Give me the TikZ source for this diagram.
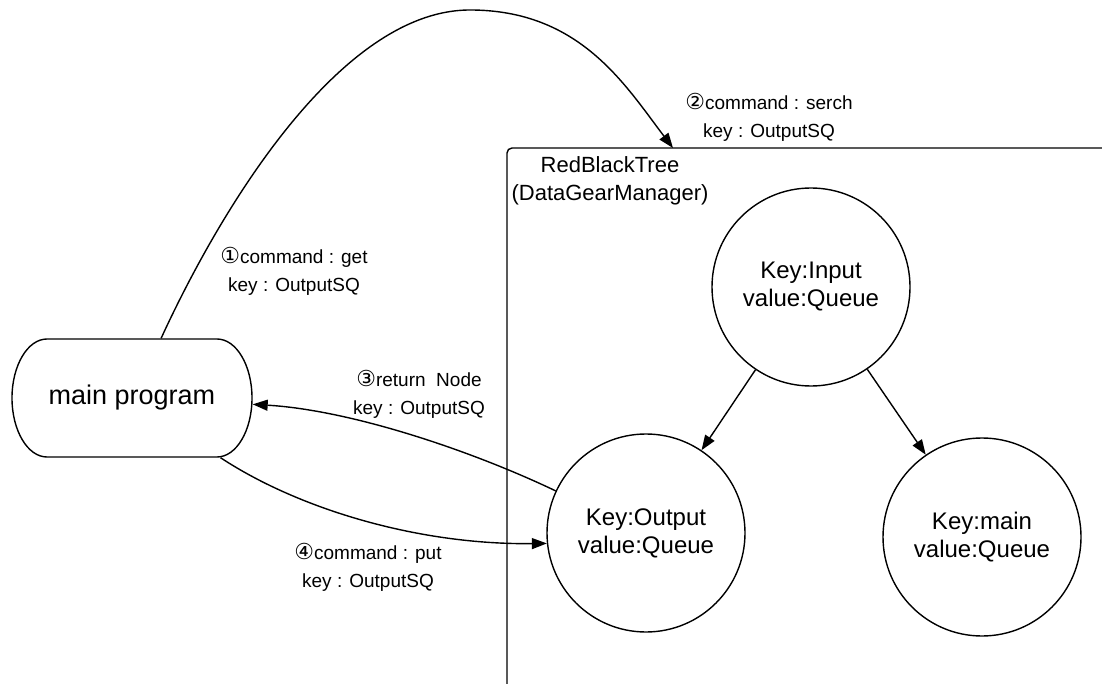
\documentclass[tikz,border=0pt]{standalone}
\usepackage{fontspec}
\setmainfont{Liberation Sans}
\newfontfamily\circfont{DejaVu Sans}
\newcommand\circnum[1]{{\circfont\fontsize{22}{28}\selectfont #1}}
\usetikzlibrary{arrows.meta}
\begin{document}
\begin{tikzpicture}[x=1pt,y=-1pt,
  line width=1.4pt,
  tip/.style={-{Triangle[length=15pt,width=11pt]}},
  treenode/.style={circle,draw,minimum size=198pt,inner sep=0pt,align=center,
    font=\fontsize{24}{28}\selectfont},
  note/.style={align=center,inner sep=0pt,font=\fontsize{19}{28}\selectfont},
]
\useasboundingbox (0,0) rectangle (1102,684);

% frame of the data gear manager (runs off the page on the right and bottom)
\draw[rounded corners=5pt] (507,700) -- (507,148) -- (1120,148);
\node[align=center,inner sep=0pt,font=\fontsize{22}{28}\selectfont] (rbt) at (610,181)
  {RedBlackTree\\(DataGearManager)};
\coordinate (gettarget) at (673,148);

% tree nodes
\node[treenode] (in)  at (811,287) {Key:Input\\value:Queue};
\node[treenode] (out) at (646,533) {Key:Output\\value:Queue};
\node[treenode] (mn)  at (982,537) {Key:main\\value:Queue};

% main program: stadium with elliptical ends
\node[minimum width=240pt,minimum height=118pt,inner sep=0pt,
  font=\fontsize{27}{32}\selectfont] (mp) at (132,398) {main program};
\draw (47,339) -- (217,339)
  .. controls (236.3,339) and (252,365.4) .. (252,398)
  .. controls (252,430.6) and (236.3,457) .. (217,457)
  -- (47,457)
  .. controls (27.7,457) and (12,430.6) .. (12,398)
  .. controls (12,365.4) and (27.7,339) .. cycle;

% tree edges
\draw[tip] (in) -- (out);
\draw[tip] (in) -- (mn);

% messages
\draw[tip] (mp.64.6) .. controls (220,210) and (340,10) .. (470,10)
  .. controls (580,10) and (625,85) .. (gettarget);
\draw[tip] (out.155) .. controls (470,450) and (350,410) .. (mp.-3);
\draw[tip] (mp.-34.8) .. controls (300,510) and (420,545) .. (out.186.6);

% message labels
\node[note] (l1) at (294,271) {\circnum{①}command : get\\key : OutputSQ};
\node[note] (l2) at (769,117) {\circnum{②}command : serch\\key : OutputSQ};
\node[note] (l3) at (419,394) {\circnum{③}return~~Node\\key : OutputSQ};
\node[note] (l4) at (368,567) {\circnum{④}command : put\\key : OutputSQ};
\end{tikzpicture}
\end{document}
